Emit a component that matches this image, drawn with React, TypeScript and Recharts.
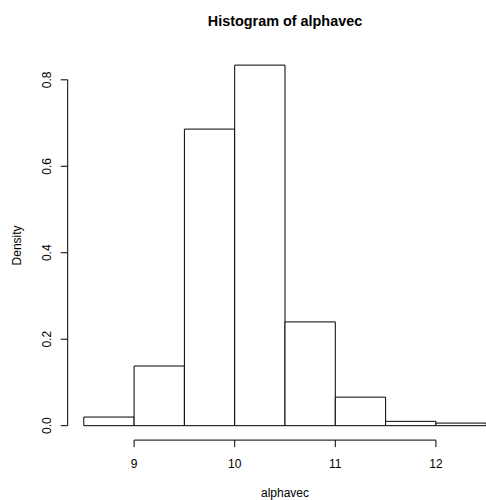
import React from 'react';
import { ComposedChart, XAxis, YAxis, ReferenceArea, ReferenceLine, Label } from 'recharts';

const binStarts = [8.5, 9, 9.5, 10, 10.5, 11, 11.5, 12];
const binEnds = [9, 9.5, 10, 10.5, 11, 11.5, 12, 12.5];
const densities = [0.02, 0.138, 0.686, 0.834, 0.24, 0.066, 0.01, 0.006];
const xTicks = [9, 10, 11, 12];
const yTicks = [0, 0.2, 0.4, 0.6, 0.8];
const titleText = 'Histogram of alphavec';
const xLabelText = 'alphavec';
const yLabelText = 'Density';

const FONT = '"Liberation Sans", Arial, Helvetica, sans-serif';

// R-style 4% axis expansion
const xMin = Math.min(...binStarts);
const xMax = Math.max(...binEnds);
const xPad = (xMax - xMin) * 0.04;
const yMax = Math.max(...densities);
const yPad = yMax * 0.04;
const xDomain: [number, number] = [xMin - xPad, xMax + xPad];
const yDomain: [number, number] = [-yPad, yMax + yPad];

const table = binStarts.map((s, i) => ({
  start: s,
  end: binEnds[i],
  mid: (s + binEnds[i]) / 2,
  density: densities[i],
}));

const XTick = (props: any) => {
  const { x, y, payload } = props;
  return (
    <text x={x} y={y + 21.2} textAnchor="middle" fontSize={12} fontFamily={FONT} fill="#000">
      {String(payload.value)}
    </text>
  );
};

const YTick = (props: any) => {
  const { x, y, payload } = props;
  const bx = x - 10;
  return (
    <text
      x={bx}
      y={y}
      transform={`rotate(-90, ${bx}, ${y})`}
      textAnchor="middle"
      fontSize={12}
      fontFamily={FONT}
      fill="#000"
    >
      {Number(payload.value).toFixed(1)}
    </text>
  );
};

const XLabelContent = (props: any) => {
  const vb = props.viewBox || {};
  const cx = vb.x + vb.width / 2;
  return (
    <text x={cx} y={vb.y + 56.4} textAnchor="middle" fontSize={12} fontFamily={FONT} fill="#000">
      {xLabelText}
    </text>
  );
};

const YLabelContent = (props: any) => {
  const vb = props.viewBox || {};
  const cy = vb.y + vb.height / 2;
  const bx = 21.5;
  return (
    <text
      x={bx}
      y={cy}
      transform={`rotate(-90, ${bx}, ${cy})`}
      textAnchor="middle"
      fontSize={12}
      fontFamily={FONT}
      fill="#000"
    >
      {yLabelText}
    </text>
  );
};

export default function App() {
  return (
    <div
      style={{
        position: 'absolute',
        left: 0,
        top: 0,
        width: 486,
        height: 500,
        overflow: 'hidden',
        background: '#fff',
      }}
    >
      <svg
        width={486}
        height={40}
        style={{ position: 'absolute', left: 0, top: 0, zIndex: 2, pointerEvents: 'none' }}
      >
        <text x={285} y={25.7} textAnchor="middle" fontSize={14.4} fontWeight="bold" fontFamily={FONT} fill="#000">
          {titleText}
        </text>
      </svg>
      <div style={{ position: 'absolute', left: 0, top: 0 }}>
        <ComposedChart
          width={520}
          height={500}
          data={table}
          margin={{ top: 50.7, right: 17.7, bottom: 0, left: 0 }}
        >
          <XAxis
            type="number"
            dataKey="mid"
            domain={xDomain}
            allowDataOverflow
            ticks={xTicks}
            interval={0}
            tickSize={7}
            tickMargin={0}
            axisLine={false}
            tickLine={{ stroke: '#000', strokeWidth: 1 }}
            tick={<XTick />}
            height={59.9}
          >
            <Label content={<XLabelContent />} />
          </XAxis>
          <YAxis
            type="number"
            domain={yDomain}
            allowDataOverflow
            ticks={yTicks}
            interval={0}
            tickSize={7}
            tickMargin={0}
            axisLine={false}
            tickLine={{ stroke: '#000', strokeWidth: 1 }}
            tick={<YTick />}
            width={67.7}
          >
            <Label content={<YLabelContent />} />
          </YAxis>
          {table.map((d, i) => (
            <ReferenceArea
              key={i}
              x1={d.start}
              x2={d.end}
              y1={0}
              y2={d.density}
              fill="#fff"
              fillOpacity={1}
              stroke="#000"
              strokeWidth={1}
              ifOverflow="visible"
            />
          ))}
          <ReferenceLine
            segment={[
              { x: xDomain[0], y: yTicks[0] },
              { x: xDomain[0], y: yTicks[yTicks.length - 1] },
            ]}
            stroke="#000"
            strokeWidth={1}
            ifOverflow="visible"
          />
          <ReferenceLine
            segment={[
              { x: xTicks[0], y: yDomain[0] },
              { x: xTicks[xTicks.length - 1], y: yDomain[0] },
            ]}
            stroke="#000"
            strokeWidth={1}
            ifOverflow="visible"
          />
        </ComposedChart>
      </div>
    </div>
  );
}
